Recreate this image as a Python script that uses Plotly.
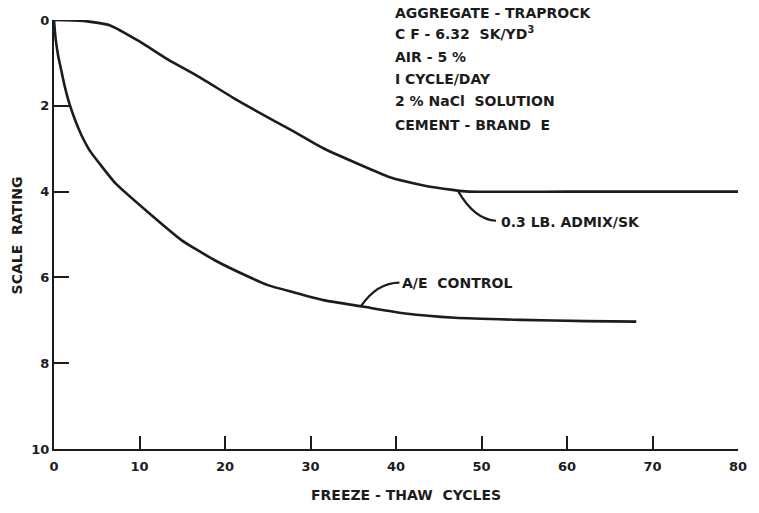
import plotly.graph_objects as go

# Scale rating vs freeze-thaw cycles
admix_cycles = [0, 3.4, 6.5, 10, 13.4, 16.9, 21.1, 24, 27.7, 31.5, 35.4, 39.2, 43.1, 46.6, 48.5, 60, 70, 80]
admix_rating = [0, 0.02, 0.12, 0.5, 0.93, 1.32, 1.83, 2.16, 2.56, 2.99, 3.34, 3.66, 3.85, 3.96, 4.0, 4.0, 4.0, 4.0]

control_cycles = [0, 0.1, 0.23, 0.5, 0.77, 1.2, 1.8, 2.5, 3.2, 4.2, 5.3, 7.2, 11.1, 14.9, 18.8, 22.7, 25,
                  27.7, 31.5, 36.1, 41.1, 46.9, 54.6, 62.3, 68.1]
control_rating = [0, 0.25, 0.5, 0.85, 1.1, 1.5, 1.95, 2.35, 2.68, 3.05, 3.34, 3.81, 4.5, 5.13, 5.6, 5.98, 6.18,
                  6.33, 6.53, 6.68, 6.84, 6.94, 6.99, 7.02, 7.03]

x_ticks = [0, 10, 20, 30, 40, 50, 60, 70, 80]
y_ticks = [0, 2, 4, 6, 8, 10]

notes = [
    "AGGREGATE - TRAPROCK",
    "C F - 6.32  SK/YD<sup>3</sup>",
    "AIR - 5 %",
    "I CYCLE/DAY",
    "2 % NaCl  SOLUTION",
    "CEMENT - BRAND  E",
]

INK = "#1c1c1c"
FONT = "DejaVu Sans"

# plot area in pixels (for placing text outside the axes)
L, R, T, B = 54, 13, 20, 64
W, H = 759, 513
PW, PH = W - L - R, H - T - B


def px_to_paper(px, py):
    return (px - L) / PW, 1 - (py - T) / PH


fig = go.Figure()
fig.add_trace(go.Scatter(x=admix_cycles, y=admix_rating, mode="lines",
                         line=dict(color=INK, width=2.6, shape="spline", smoothing=0.5),
                         showlegend=False, hoverinfo="skip"))
fig.add_trace(go.Scatter(x=control_cycles, y=control_rating, mode="lines",
                         line=dict(color=INK, width=2.6, shape="spline", smoothing=0.5),
                         showlegend=False, hoverinfo="skip"))

# curved leader lines from each curve to its label
fig.add_shape(type="path", xref="x", yref="y",
              path="M 47.3,4.0 Q 49.2,4.65 51.7,4.68",
              line=dict(color=INK, width=2.2))
fig.add_shape(type="path", xref="x", yref="y",
              path="M 35.9,6.67 Q 37.8,6.12 40.4,6.12",
              line=dict(color=INK, width=2.2))

fig.add_annotation(x=52.0, y=4.70, xref="x", yref="y", text="<b>0.3 LB. ADMIX/SK</b>",
                   showarrow=False, xanchor="left", yanchor="middle",
                   font=dict(family=FONT, size=14, color=INK))
fig.add_annotation(x=40.5, y=6.13, xref="x", yref="y", text="<b>A/E  CONTROL</b>",
                   showarrow=False, xanchor="left", yanchor="middle",
                   font=dict(family=FONT, size=14, color=INK))

note_rows = [12.7, 33.3, 56.7, 79, 101, 125]
for line, py in zip(notes, note_rows):
    nx, ny = px_to_paper(397, py)
    fig.add_annotation(x=nx, y=ny, xref="paper", yref="paper",
                       text="<b>" + line + "</b>", showarrow=False,
                       xanchor="left", yanchor="middle",
                       font=dict(family=FONT, size=14, color=INK))

# axis titles
tx, ty = px_to_paper(17, 235)
fig.add_annotation(x=tx, y=ty, xref="paper", yref="paper", text="<b>SCALE  RATING</b>",
                   showarrow=False, textangle=-90, xanchor="center", yanchor="middle",
                   font=dict(family=FONT, size=14, color=INK))
tx, ty = px_to_paper(410, 495)
fig.add_annotation(x=tx, y=ty, xref="paper", yref="paper", text="<b>FREEZE - THAW  CYCLES</b>",
                   showarrow=False, xanchor="center", yanchor="middle",
                   font=dict(family=FONT, size=14, color=INK))

fig.update_xaxes(range=[0, 80], tickvals=x_ticks, ticktext=["<b>%d</b>" % v for v in x_ticks],
                 showline=True, linecolor=INK, linewidth=2.2, mirror=False,
                 ticks="inside", ticklen=13, tickwidth=2, tickcolor=INK,
                 showgrid=False, zeroline=False, ticklabelstandoff=4,
                 tickfont=dict(family=FONT, size=13, color=INK))
fig.update_yaxes(range=[10, 0], tickvals=y_ticks, ticktext=["<b>%d</b>" % v for v in y_ticks],
                 showline=True, linecolor=INK, linewidth=2.2, mirror=False,
                 ticks="inside", ticklen=15, tickwidth=2, tickcolor=INK,
                 showgrid=False, zeroline=False,
                 tickfont=dict(family=FONT, size=13, color=INK))

fig.update_layout(width=W, height=H,
                  margin=dict(l=L, r=R, t=T, b=B),
                  paper_bgcolor="white", plot_bgcolor="white",
                  showlegend=False)

fig.write_html("out.html")
